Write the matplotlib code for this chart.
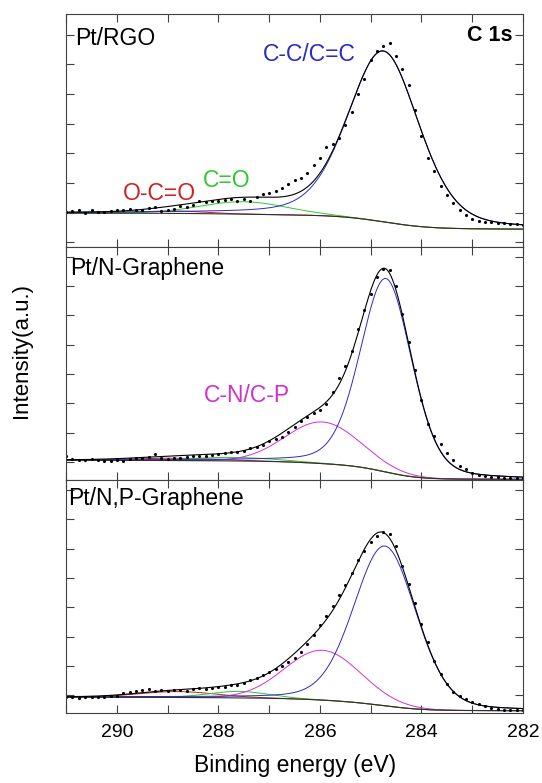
import numpy as np
import matplotlib.pyplot as plt
from matplotlib.ticker import MultipleLocator

plt.rcParams['font.family'] = ['Liberation Sans', 'DejaVu Sans']

# measured energy grid (eV), 0.125 eV step from 291 down to 282
energy = np.linspace(291.0, 282.0, 73)

# raw C 1s counts (arb. units)
rgo_counts = [1.02, 1.05, 1.08, 1.00, 1.07, 1.03, 1.02, 1.06, 1.08, 1.10,
              1.12, 1.10, 1.08, 1.14, 1.18, 1.05, 1.08, 1.12, 1.22, 1.20,
              1.26, 1.38, 1.35, 1.40, 1.38, 1.42, 1.45, 1.40, 1.44, 1.38,
              1.52, 1.62, 1.66, 1.72, 1.82, 1.95, 2.10, 2.15, 2.35, 2.62,
              2.84, 3.20, 3.30, 3.50, 3.97, 4.40, 5.00, 5.50, 6.15, 6.45,
              6.62, 6.72, 6.30, 5.85, 5.30, 4.45, 3.60, 2.85, 2.40, 1.90,
              1.60, 1.32, 1.07, 0.90, 0.78, 0.73, 0.69, 0.67, 0.64, 0.66,
              0.62, 0.60, 0.58]
ng_counts = [0.19, 0.10, 0.08, 0.07, 0.09, 0.06, 0.04, 0.05, 0.06, 0.04,
             0.12, 0.15, 0.14, 0.16, 0.27, 0.13, 0.12, 0.14, 0.13, 0.18,
             0.20, 0.19, 0.22, 0.24, 0.27, 0.30, 0.34, 0.36, 0.38, 0.47,
             0.53, 0.58, 0.72, 0.79, 0.86, 1.03, 1.18, 1.40, 1.55, 1.68,
             1.76, 1.97, 2.38, 2.86, 3.26, 3.78, 4.55, 5.20, 5.73, 6.30,
             6.58, 6.55, 6.00, 5.05, 4.10, 3.15, 2.10, 1.30, 0.88, 0.60,
             0.30, 0.08, -0.12, -0.25, -0.36, -0.43, -0.48, -0.50, -0.52,
             -0.53, -0.55, -0.54, -0.56]
npg_counts = [-0.07, -0.06, -0.09, -0.07, -0.08, -0.06, -0.05, -0.04, -0.02, 0.07,
              0.10, 0.14, 0.16, 0.22, 0.15, 0.17, 0.14, 0.16, 0.18, 0.15,
              0.20, 0.24, 0.22, 0.26, 0.28, 0.27, 0.33, 0.34, 0.42, 0.50,
              0.60, 0.68, 0.78, 0.88, 0.98, 1.13, 1.27, 1.48, 1.76, 2.05,
              2.38, 2.70, 3.03, 3.40, 3.76, 4.18, 4.62, 4.90, 5.22, 5.42,
              5.55, 5.48, 5.10, 4.40, 3.80, 3.15, 2.42, 1.80, 1.18, 0.72,
              0.39, 0.11, -0.04, -0.14, -0.22, -0.30, -0.36, -0.44, -0.48,
              -0.50, -0.49, -0.51, -0.52]

# fitted components: label, centre (eV), height, FWHM (eV), lorentz fraction
rgo_peaks = [('C-C/C=C', 284.75, 5.77, 1.65, 0.3),
             ('C=O', 287.5, 0.42, 2.0, 0.0),
             ('O-C=O', 288.9, 0.08, 1.5, 0.0)]
ng_peaks = [('C-C/C=C', 284.7, 6.6, 1.2, 0.25),
            ('C-N/C-P', 285.95, 1.42, 1.72, 0.0),
            ('C=O', 287.7, 0.12, 2.0, 0.0),
            ('O-C=O', 288.9, 0.08, 2.0, 0.0)]
npg_peaks = [('C-C/C=C', 284.72, 5.45, 1.45, 0.2),
             ('C-N/C-P', 285.95, 1.7, 1.75, 0.0),
             ('C=O', 287.6, 0.22, 1.4, 0.0),
             ('O-C=O', 288.8, 0.20, 1.8, 0.0)]

# Shirley background end levels (high-BE side, low-BE side)
rgo_bg = (0.98, 0.44)
ng_bg = (0.06, -0.59)
npg_bg = (-0.07, -0.53)

colors = {'C-C/C=C': '#2a2ac8', 'C-N/C-P': '#d030d0',
          'C=O': '#30c830', 'O-C=O': '#d02020'}


def gl(x, c, h, w, m):
    # gaussian-lorentzian sum line shape
    g = np.exp(-4 * np.log(2) * (x - c) ** 2 / w ** 2)
    l = 1 / (1 + 4 * (x - c) ** 2 / w ** 2)
    return h * ((1 - m) * g + m * l)


def shirley(x, peaks, bg):
    total = sum(gl(x, *p[1:]) for p in peaks)
    # x runs from high to low BE, accumulate area from the low-BE side
    cum = np.cumsum(total[::-1])[::-1]
    return bg[1] + (bg[0] - bg[1]) * cum / cum[0]


fig, axes = plt.subplots(3, 1, figsize=(5.42, 7.83), dpi=100, sharex=True)
fig.subplots_adjust(left=0.122, right=0.965, top=0.982, bottom=0.089, hspace=0)

xs = np.linspace(291, 282, 600)
panels = [(rgo_counts, rgo_peaks, rgo_bg, 'Pt/RGO', (-0.17, 7.7), (0.02, 0.867)),
          (ng_counts, ng_peaks, ng_bg, 'Pt/N-Graphene', (-0.62, 7.33), (0.008, 0.88)),
          (npg_counts, npg_peaks, npg_bg, 'Pt/N,P-Graphene', (-0.62, 7.33), (0.005, 0.893))]

for ax, (counts, peaks, bg, name, ylim, pos) in zip(axes, panels):
    base = shirley(xs, peaks, bg)
    for p in peaks[::-1]:
        ax.plot(xs, base + gl(xs, *p[1:]), color=colors[p[0]], lw=0.7)
    ax.plot(xs, base, color='#303030', lw=0.8)
    fit = base + sum(gl(xs, *p[1:]) for p in peaks)
    ax.plot(xs, fit, color='black', lw=0.8)
    ax.plot(energy, counts, ls='none', marker='.', ms=2.5, color='black')

    ax.set_xlim(291, 282)
    ax.set_ylim(*ylim)
    ax.yaxis.set_major_locator(MultipleLocator(1))
    ax.set_yticklabels([])
    ax.xaxis.set_major_locator(MultipleLocator(2))
    ax.xaxis.set_minor_locator(MultipleLocator(1))
    ax.tick_params(which='both', direction='in', top=True, right=True,
                   length=6, width=0.8, color='#404040', labelsize=14, pad=8)
    for s in ax.spines.values():
        s.set_color('#404040')
    ax.text(pos[0], pos[1], name, transform=ax.transAxes, fontsize=16.5,
            ha='left', va='baseline')

axes[0].text(0.976, 0.885, 'C 1s', transform=axes[0].transAxes, fontsize=15.5,
             fontweight='bold', ha='right', va='baseline')
axes[0].text(286.21, 6.11, 'C-C/C=C', color=colors['C-C/C=C'], fontsize=16.5,
             ha='center', va='baseline')
axes[0].text(287.83, 1.87, 'C=O', color=colors['C=O'], fontsize=16.5,
             ha='center', va='baseline')
axes[0].text(289.17, 1.42, 'O-C=O', color=colors['O-C=O'], fontsize=16.5,
             ha='center', va='baseline')
axes[1].text(287.44, 2.05, 'C-N/C-P', color=colors['C-N/C-P'], fontsize=16.5,
             ha='center', va='baseline')

axes[2].set_xlabel('Binding energy (eV)', fontsize=16.5, labelpad=9)
fig.text(0.04, 0.553, 'Intensity(a.u.)', rotation=90, fontsize=16,
         ha='center', va='center')

fig.savefig('out.png', dpi=100)
